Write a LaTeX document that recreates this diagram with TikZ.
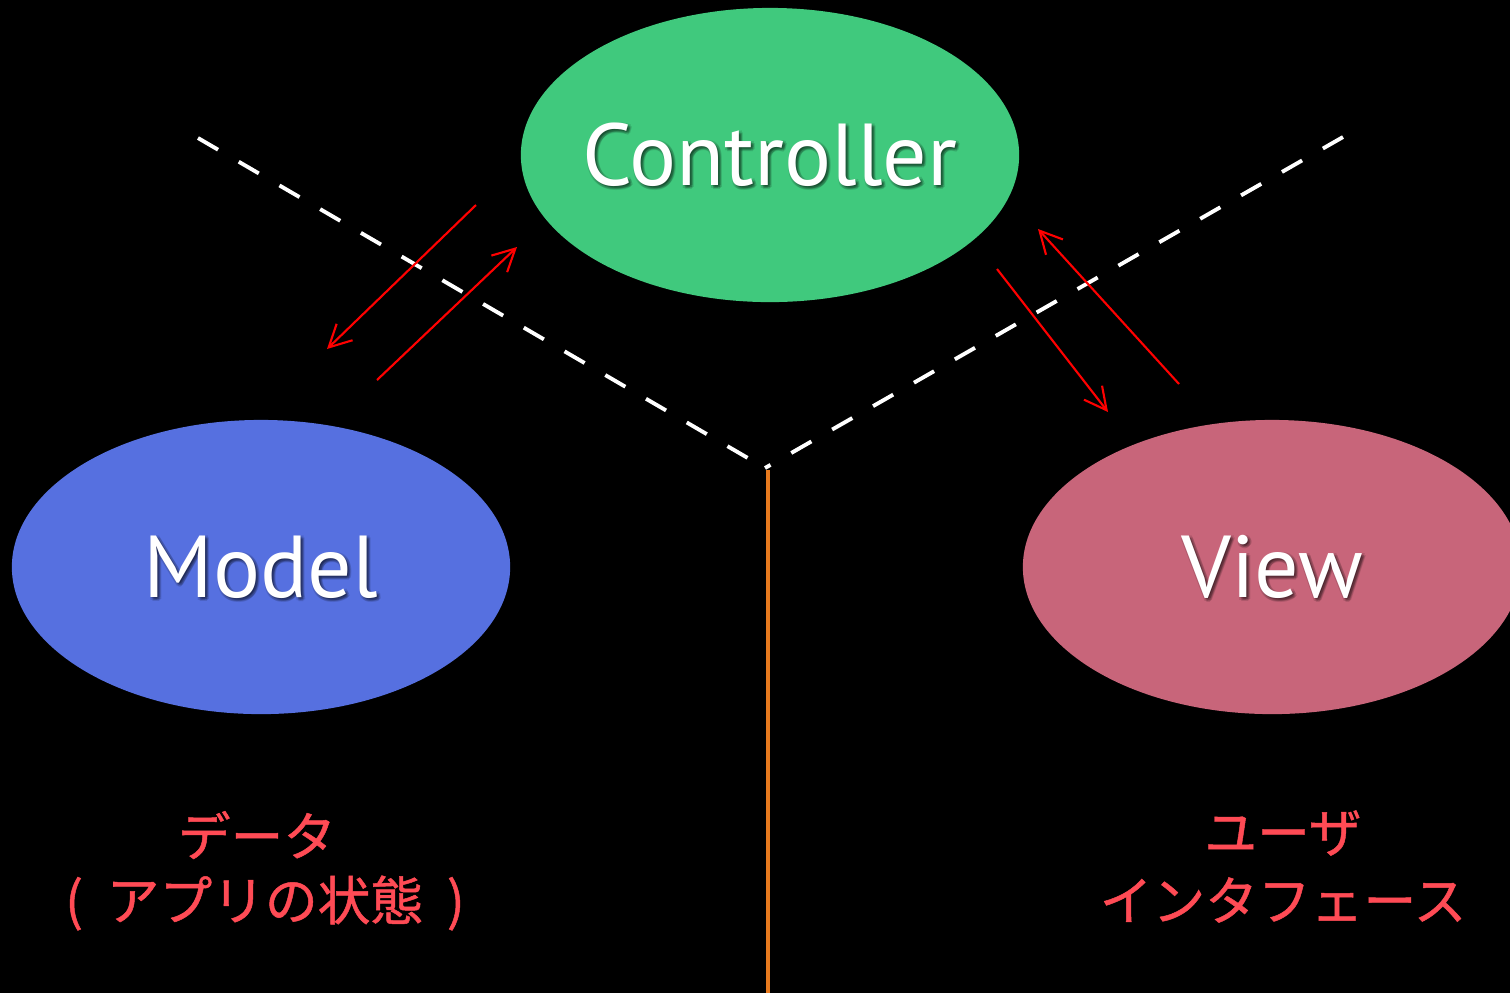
\documentclass[tikz,border=0pt]{standalone}
\usepackage{fontspec}
\setmainfont{PT Sans}
\newfontfamily\jpfont[FakeBold=0.9]{Noto Sans CJK JP}
\usetikzlibrary{shapes.geometric,arrows.meta}
\definecolor{ctrlgreen}{RGB}{64,201,125}
\definecolor{modelblue}{RGB}{86,112,224}
\definecolor{viewpink}{RGB}{200,101,122}
\definecolor{labelred}{RGB}{255,75,85}
\definecolor{axisorange}{RGB}{232,122,30}
\tikzset{
  blob/.style={ellipse, inner sep=0pt, minimum width=4.98cm, minimum height=2.94cm, draw=none},
  blobtext/.style={font=\fontsize{25}{30}\selectfont, text=white},
  shadowtext/.style={font=\fontsize{25}{30}\selectfont, text=black, opacity=0.12},
  flow/.style={draw=red, line width=0.6pt, -{Straight Barb[length=6.3pt,width=6.5pt]}},
  boundary/.style={draw=white, line width=1.1pt, dash pattern=on 6.6pt off 6.8pt},
  caption/.style={font=\jpfont\fontsize{15}{19}\selectfont, text=labelred, align=center}
}
% white label over a few faint offset copies, giving a soft shadow
\newcommand\softlabel[2]{%
  \foreach \dx/\dy in {1/1,2/2,3/3,2/4,4/2,0/3,3/0}{%
    \node[shadowtext] at ([shift={(\dx,\dy)}]#1.center) {#2};}%
  \node[blobtext] (#1label) at (#1.center) {#2};}
\begin{document}
\begin{tikzpicture}[x=0.01cm, y=-0.01cm]
  % canvas
  \fill[black] (0,0) rectangle (1510,993);
  \useasboundingbox (0,0) rectangle (1510,993);

  % the three parts
  \node[blob, fill=ctrlgreen] (controller) at (770,155) {};
  \node[blob, fill=modelblue] (model) at (261,567) {};
  \begin{scope}
    \clip (0,0) rectangle (1510,993);
    \node[blob, fill=viewpink] (view) at (1272,567) {};
  \end{scope}

  \softlabel{controller}{Controller}
  \softlabel{model}{Model}
  \softlabel{view}{View}

  % dashed boundaries meeting at the centre
  \coordinate (apex) at (765,468);
  \coordinate (bleft) at (198,138);
  \coordinate (bright) at (1343,137);
  \coordinate (bottom) at (768,993);
  \draw[boundary] (bleft) -- (apex);
  \draw[boundary] (bright) -- (apex);
  \draw[axisorange, line width=0.9pt] (768,470) -- (bottom);

  % message arrows
  \coordinate (mc1) at (476,205);  \coordinate (mc2) at (327,349);
  \coordinate (mc3) at (377,380);  \coordinate (mc4) at (517,247);
  \coordinate (vc1) at (1179,384); \coordinate (vc2) at (1038,229);
  \coordinate (vc3) at (997,269);  \coordinate (vc4) at (1108,412);
  \draw[flow] (mc1) -- (mc2);
  \draw[flow] (mc3) -- (mc4);
  \draw[flow] (vc1) -- (vc2);
  \draw[flow] (vc3) -- (vc4);

  % captions
  \node[caption] (datacap) at (257,835) {データ};
  \node[caption] (statecap) at (265,903) {(\hspace{0.45em}アプリの状態\hspace{0.45em})};
  \node[caption] (usercap) at (1283,833) {ユーザ};
  \node[caption] (uicap) at (1283,900) {インタフェース};
\end{tikzpicture}
\end{document}
